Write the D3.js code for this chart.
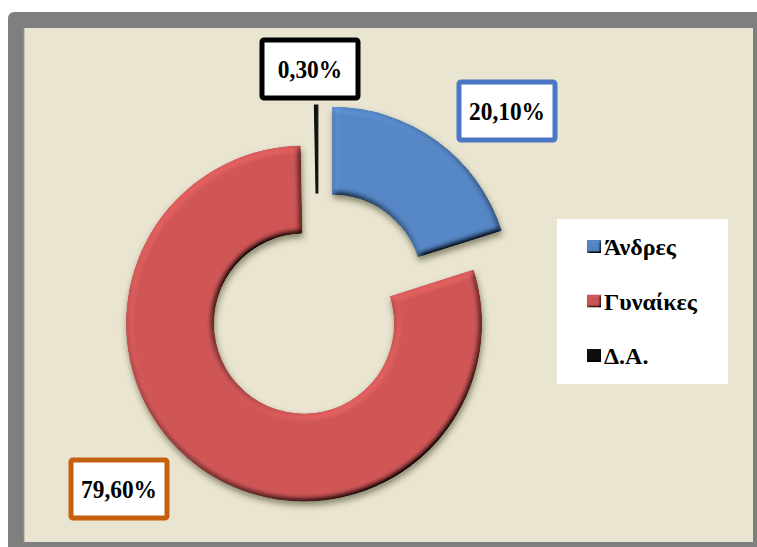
<!DOCTYPE html>
<html><head><meta charset="utf-8">
<script src="https://cdn.jsdelivr.net/npm/d3@7"></script>
<style>html,body{margin:0;padding:0;background:#fff;}svg{display:block;}
text{font-family:"Liberation Serif","Times New Roman",serif;font-weight:bold;}</style>
</head><body>
<svg id="chart" width="757" height="547"></svg>
<script>
const categories = ["Άνδρες", "Γυναίκες", "Δ.Α."];
const values = [20.1, 79.6, 0.3];
const valueLabels = ["20,10%", "79,60%", "0,30%"];

const colors = ["#5687C6", "#D05757", "#111111"];
const labelBorders = ["#4A78C6", "#C5600F", "#000000"];
const labelCenters = [[507, 111], [119, 489], [310, 69]];
const explode = [24, 24, 21];

const svg = d3.select("#chart");
const defs = svg.append("defs");

// bevel + drop shadow filter
const f = defs.append("filter").attr("id", "bevel").attr("x", "-20%").attr("y", "-20%").attr("width", "140%").attr("height", "140%");
f.append("feGaussianBlur").attr("in", "SourceAlpha").attr("stdDeviation", 3).attr("result", "blur");
const dl = f.append("feDiffuseLighting").attr("in", "blur").attr("surfaceScale", 6).attr("diffuseConstant", 1).attr("lighting-color", "#fff").attr("result", "diff");
dl.append("feDistantLight").attr("azimuth", 235).attr("elevation", 55);
f.append("feComposite").attr("in", "SourceGraphic").attr("in2", "diff").attr("operator", "arithmetic").attr("k1", 1.22).attr("k2", 0).attr("k3", 0).attr("k4", 0).attr("result", "lit");
f.append("feComposite").attr("in", "lit").attr("in2", "SourceAlpha").attr("operator", "in").attr("result", "litIn");
f.append("feGaussianBlur").attr("in", "SourceAlpha").attr("stdDeviation", 3).attr("result", "sblur");
f.append("feOffset").attr("in", "sblur").attr("dx", 1).attr("dy", 4).attr("result", "soff");
f.append("feFlood").attr("flood-color", "#3a3a20").attr("flood-opacity", 0.55).attr("result", "sc");
f.append("feComposite").attr("in", "sc").attr("in2", "soff").attr("operator", "in").attr("result", "shadow");
const m = f.append("feMerge");
m.append("feMergeNode").attr("in", "shadow");
m.append("feMergeNode").attr("in", "litIn");

// small bevel for legend markers
const f2 = defs.append("filter").attr("id", "bevelS").attr("x", "-20%").attr("y", "-20%").attr("width", "140%").attr("height", "140%");
f2.append("feGaussianBlur").attr("in", "SourceAlpha").attr("stdDeviation", 1.2).attr("result", "blur");
const dl2 = f2.append("feDiffuseLighting").attr("in", "blur").attr("surfaceScale", 3).attr("diffuseConstant", 1).attr("lighting-color", "#fff").attr("result", "diff");
dl2.append("feDistantLight").attr("azimuth", 235).attr("elevation", 55);
f2.append("feComposite").attr("in", "SourceGraphic").attr("in2", "diff").attr("operator", "arithmetic").attr("k1", 1.15).attr("k2", 0).attr("k3", 0).attr("k4", 0).attr("result", "lit");
f2.append("feComposite").attr("in", "lit").attr("in2", "SourceAlpha").attr("operator", "in");

// frame
svg.append("rect").attr("x", 8).attr("y", 12).attr("width", 760).attr("height", 545).attr("rx", 6).attr("fill", "#7F7F7F");
svg.append("rect").attr("x", 24).attr("y", 28).attr("width", 729).attr("height", 514).attr("fill", "#EAE5D1");
svg.append("line").attr("x1", 24).attr("y1", 28).attr("x2", 24).attr("y2", 542).attr("stroke", "#9a9a9a").attr("stroke-width", 1);

// donut
const cx = 318, cy = 304;
const pie = d3.pie().sort(null).value(d => d).startAngle(0).endAngle(2 * Math.PI);
const arc = d3.arc().innerRadius(90).outerRadius(178);
const arcs = pie(values);

const g = svg.append("g").attr("transform", `translate(${cx},${cy})`);
g.selectAll("path.slice").data(arcs).join("path")
  .attr("class", "slice")
  .attr("d", arc)
  .attr("fill", (d, i) => colors[i])
  .attr("stroke", (d, i) => i === 2 ? colors[i] : "none")
  .attr("stroke-width", 1.2)
  .attr("transform", (d, i) => {
    const a = (d.startAngle + d.endAngle) / 2;
    return `translate(${explode[i] * Math.sin(a)},${-explode[i] * Math.cos(a)})`;
  })
  .attr("filter", (d, i) => i === 2 ? null : "url(#bevel)");

// value labels
const lab = svg.append("g").selectAll("g").data(arcs).join("g")
  .attr("transform", (d, i) => `translate(${labelCenters[i][0]},${labelCenters[i][1]})`);
lab.append("rect").attr("x", -48).attr("y", -29).attr("width", 96).attr("height", 58).attr("rx", 2)
  .attr("fill", "#fff").attr("stroke", (d, i) => labelBorders[i]).attr("stroke-width", 5);
lab.append("text").attr("text-anchor", "middle").attr("dy", "0.35em")
  .attr("transform", "scale(0.9,1)")
  .attr("font-size", 26)
  .attr("fill", "#000").text((d, i) => valueLabels[i]);

// legend
const leg = svg.append("g");
leg.append("rect").attr("x", 557).attr("y", 219).attr("width", 171).attr("height", 165).attr("fill", "#fff");
const ly = d3.scalePoint().domain(categories).range([247, 356]);
const li = leg.selectAll("g.item").data(categories).join("g").attr("class", "item")
  .attr("transform", d => `translate(587,${ly(d)})`);
li.append("rect").attr("x", 0).attr("y", -7).attr("width", 14).attr("height", 13)
  .attr("fill", (d, i) => colors[i]).attr("filter", "url(#bevelS)");
li.append("text").attr("x", 17).attr("dy", "0.34em")
  .attr("font-size", 24)
  .attr("fill", "#000").text(d => d);
</script>
</body></html>
